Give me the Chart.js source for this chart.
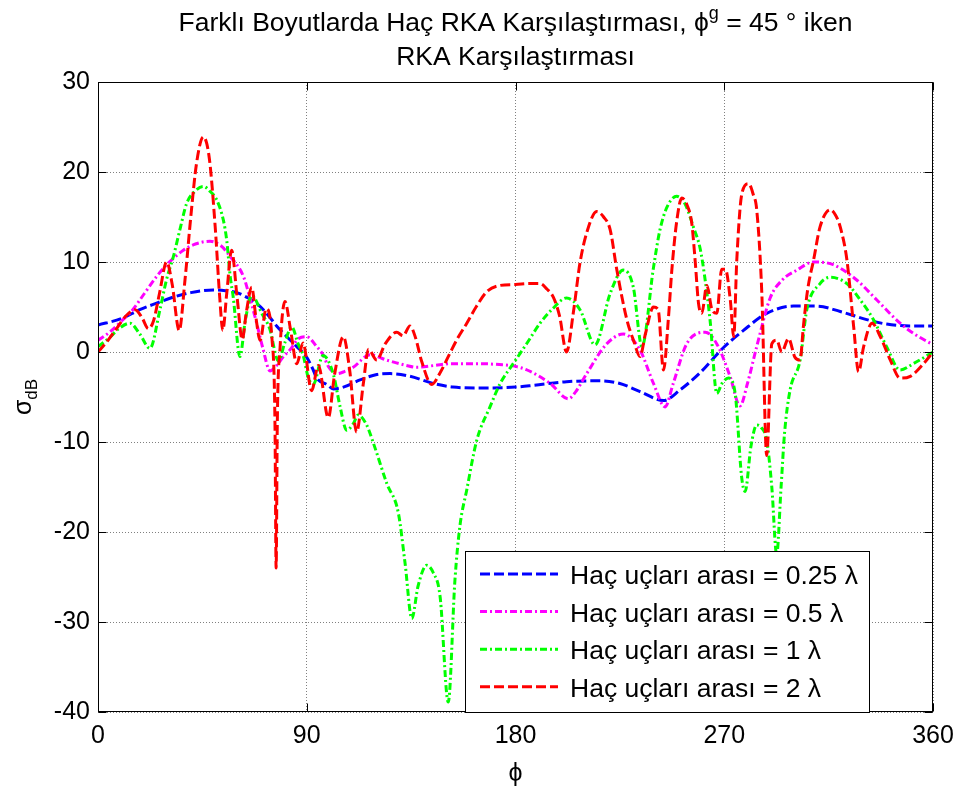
<!DOCTYPE html>
<html>
<head>
<meta charset="utf-8">
<script src="https://cdn.jsdelivr.net/npm/chart.js@4.4.0/dist/chart.umd.min.js"></script>
<style>
  html, body { margin: 0; padding: 0; background: #fff; }
  #wrap { width: 958px; height: 789px; }
</style>
</head>
<body>
<div id="wrap"><canvas id="rcsChart" width="958" height="789"></canvas></div>
<script>
// Eksen ayarları
const xTickValues = [0, 90, 180, 270, 360];
const yTickValues = [-40, -30, -20, -10, 0, 10, 20, 30];

// Haç uçları arası = 0.25 λ
const phi025 = [0, 10, 18, 25, 32.5, 40, 49.7, 55, 59.8, 64, 68.4, 73, 77, 81, 85.7, 90, 92.8, 94.3, 98.6, 101.5,
  105.8, 113, 120.2, 126, 134.5, 144.6, 153, 165, 180, 188, 202, 216.5, 225, 233.7, 243.8, 251, 259.6, 265,
  269.7, 278.3, 288.3, 299.8, 309.9, 320, 331.4, 340, 350, 360];
const rcs025 = [3.0, 3.7, 4.7, 5.4, 6.1, 6.6, 6.9, 6.8, 6.6, 6.1, 5.4, 4.2, 2.9, 1.8, 0.6, -0.6, -2.0, -2.9, -3.6, -4.1,
  -3.9, -3.1, -2.5, -2.4, -2.7, -3.5, -3.9, -4.0, -3.9, -3.7, -3.3, -3.2, -3.5, -4.4, -5.4, -4.2, -2.3, -0.8,
  0.5, 2.4, 4.3, 5.1, 5.1, 4.5, 3.6, 3.1, 2.9, 2.9];

// Haç uçları arası = 0.5 λ
const phi05 = [0, 5, 10, 15, 20, 25.3, 30, 36.8, 42, 48.3, 53, 57, 62.7, 65.5, 68.4, 71, 74.2, 77, 80, 83, 86.5, 90,
  94.3, 97, 99.3, 103, 106, 110, 117.3, 124.5, 133, 137.4, 145, 152, 165, 173, 180, 185, 195, 202.8, 206, 210.7,
  219.3, 226.5, 233.7, 239.5, 244.5, 248, 253.8, 261.8, 266.8, 272.5, 276.8, 280, 284, 289.8, 295, 301.3, 308.5,
  317, 327.1, 335.7, 345.8, 352, 360];
const rcs05 = [1.3, 2.2, 3.4, 4.7, 6.5, 8.4, 9.8, 11.3, 12.0, 12.3, 11.8, 10.6, 8.4, 6.0, 3.2, 0.5, -2.1, -1.5, -0.5, 0.3, 1.5, 1.7,
  0.6, -0.3, -1.6, -2.4, -2.2, -1.7, -0.3, -0.9, -1.5, -1.7, -1.5, -1.3, -1.3, -1.4, -1.6, -2.0, -3.5, -5.2, -4.4, -2.4,
  0.9, 2.0, 0.2, -3.5, -6.1, -3.5, 0.9, 2.2, 0.9, -2.7, -6.0, -3.5, 0.6, 6.0, 8.0, 9.1, 10.0,
  9.7, 8.0, 5.8, 3.2, 2.0, 0.8];

// Haç uçları arası = 1 λ
const phi1 = [0, 5, 9, 13.8, 18, 22.4, 26.7, 29.5, 32.5, 35.5, 38.2, 42, 45.4, 48.5, 51.2, 54, 55.5, 57, 58.3, 61.2,
  63.5, 66.3, 70.6, 74, 77.8, 80.5, 83.5, 86.3, 88.5, 90.6, 92.8, 97, 101.4, 104.4, 107.2, 110, 112.2, 115.8,
  118.7, 124.5, 129.5, 132.4, 135.3, 138, 141.7, 144.5, 147.5, 151, 153.9, 156, 159, 163.3, 169, 173.4, 179,
  185, 190.6, 196, 202, 207.8, 214.3, 220.8, 226.5, 230.8, 234.5, 239.5, 242.3, 245.5, 249.5, 253, 256.7,
  259.6, 261.5, 263.9, 266.8, 269, 271.8, 274.7, 277.5, 279, 281.5, 284, 286, 288.3, 290.5, 292.6, 294.5,
  296, 298.4, 302.7, 305.6, 311.3, 315.7, 322.9, 328.6, 334.3, 340, 345.8, 351.5, 360];
const rcs1 = [0.6, 1.6, 2.6, 3.2, 2.0, 0.4, 4.7, 8.0, 10.6, 13.8, 16.5, 17.9, 18.4, 17.8, 16.9, 14.7, 12.4, 8.4, 6.1, -0.5,
  3.5, 6.3, 4.3, 2.6, -1.0, 1.0, 2.8, 0.9, -0.4, -2.8, -3.6, -0.4, -2.4, -6.1, -8.7, -8.0, -7.0, -8.1,
  -10.1, -14.6, -17.9, -23.5, -29.6, -26.0, -23.7, -24.5, -27.2, -38.9, -25.3, -19.4, -15.3, -9.8, -6.1, -3.5, -1.3,
  1.0, 3.2, 4.8, 6.0, 4.7, 0.8, 6.5, 9.1, 7.2, 0.6, 9.4, 13.6, 16.2, 17.3, 16.5, 13.9,
  11.5, 8.5, 3.5, -4.6, -3.5, -2.9, -4.6, -13.9, -15.5, -10.5, -8.1, -8.4, -9.8, -15.0, -22.5, -15.0,
  -9.0, -4.2, -0.9, 4.7, 7.6, 8.3, 7.6, 5.8, 3.6, 0.6, -2.0, -1.3, 0.0];

// Haç uçları arası = 2 λ
const phi2 = [0, 4, 8, 12, 16, 19, 21.7, 24, 26.5, 29.6, 32, 35, 37.5, 40, 42.5, 45.4, 48, 50.5, 52.5, 53.8, 55.5,
  57.6, 60, 62.2, 64, 66.3, 68, 69.9, 72.5, 75, 76.3, 76.8, 77.3, 78.5, 80.6, 83, 85.7, 88.4, 92.1, 95, 99.3,
  102, 105.8, 108.5, 111.5, 114.4, 116.6, 120.2, 123.8, 128.8, 131.5, 134.5, 137, 139.5, 143.9, 147.5, 151.8,
  155, 159, 163, 167.6, 173.4, 180, 186, 190.6, 193.5, 196.3, 199, 202, 205, 207.8, 211, 215, 218, 220.8,
  223.7, 228, 231, 233.7, 236, 239.5, 241.5, 243.8, 246, 247.4, 249.5, 251.7, 254, 256, 257.5, 258.9, 260.3,
  262.5, 264.6, 266.8, 268.9, 270.5, 272.6, 274.1, 275.4, 277.6, 280.5, 282.5, 284, 286.2, 288.3, 290.5, 292.6,
  294.8, 297.7, 300.5, 302.7, 304.1, 306, 308.5, 311.3, 315.7, 318, 320, 322.9, 325.8, 327.9, 330.1, 333.7,
  337.3, 341.6, 345.8, 350.2, 355.9, 360];
const rcs2 = [0.0, 1.2, 2.6, 4.0, 4.7, 3.8, 2.6, 3.5, 6.5, 10.0, 7.5, 2.4, 8.0, 15.0, 21.0, 23.9, 21.5, 14.0, 6.0, 2.4, 6.5,
  11.3, 6.0, 1.4, 4.5, 7.2, 4.0, 1.3, 4.8, 1.5, -8.0, -24.0, -8.0, 0.5, 5.6, 2.5, -1.3, 1.0, -4.3, -1.5, -7.3,
  -2.5, 1.7, -2.0, -8.9, -3.5, 0.3, -0.9, 0.9, 2.2, 1.8, 2.9, 1.5, -1.0, -3.6, -2.3, -0.1,
  1.5, 3.2, 5.0, 6.7, 7.4, 7.5, 7.6, 7.6, 7.0, 6.1, 4.0, 0.0, 4.5, 9.9, 13.5, 15.6, 15.0, 13.6,
  9.1, 3.6, 1.2, -0.5, 2.0, 5.0, 4.7, -2.0, 4.0, 9.1, 14.5, 17.1, 16.3, 14.3, 10.0, 5.4, 4.3,
  7.4, 4.8, 4.3, 9.2, 9.2, 5.8, 1.7, 10.2, 17.6, 18.7, 17.5, 15.8, 6.5, -11.5, 0.9, 1.3,
  0.0, 1.5, -0.6, -0.9, 2.8, 7.0, 10.2, 13.9, 15.8, 15.2, 13.9, 10.2, 2.8, -2.2, 0.6, 3.2,
  1.7, -0.9, -2.9, -2.7, -1.3, 0.0];

const seriesLabels = [
  'Haç uçları arası = 0.25 λ',
  'Haç uçları arası = 0.5 λ',
  'Haç uçları arası = 1 λ',
  'Haç uçları arası = 2 λ'
];

const FONT = '"Liberation Sans", Arial, sans-serif';
const DASHED = [10, 4];
const DASH_DOT = [7, 3, 2, 3];

function toPoints(angles, values) {
  return angles.map((a, i) => ({ x: a, y: values[i] }));
}

function makeDataset(label, angles, values, color, dash, order) {
  return {
    label: label,
    data: toPoints(angles, values),
    borderColor: color,
    backgroundColor: color,
    borderWidth: 3,
    borderDash: dash,
    pointRadius: 0,
    cubicInterpolationMode: 'monotone',
    fill: false,
    order: order
  };
}

// Metin parçalarını (üst/alt simge dahil) ortalayarak yazar
function drawRuns(ctx, runs, cx, y) {
  let total = 0;
  runs.forEach(r => {
    ctx.font = r.font;
    r.w = ctx.measureText(r.text).width;
    total += r.w;
  });
  let x = cx - total / 2;
  runs.forEach(r => {
    ctx.font = r.font;
    ctx.fillText(r.text, x, y + (r.dy || 0));
    x += r.w;
  });
}

const matlabFrame = {
  id: 'matlabFrame',
  afterDraw(chart) {
    const { ctx, chartArea: a, scales } = chart;
    const L = Math.round(a.left) + 0.5;
    const R = Math.round(a.right) - 0.5;
    const T = Math.round(a.top) + 0.5;
    const B = Math.round(a.bottom) - 0.5;
    const tickLen = 8;

    ctx.save();
    ctx.strokeStyle = '#000';
    ctx.lineWidth = 1;
    ctx.setLineDash([]);

    // iç taraftaki tik işaretleri
    ctx.beginPath();
    xTickValues.forEach(v => {
      const px = Math.round(scales.x.getPixelForValue(v)) + 0.5;
      ctx.moveTo(px, B); ctx.lineTo(px, B - tickLen);
      ctx.moveTo(px, T); ctx.lineTo(px, T + tickLen);
    });
    yTickValues.forEach(v => {
      const py = Math.round(scales.y.getPixelForValue(v)) + 0.5;
      ctx.moveTo(L, py); ctx.lineTo(L + tickLen, py);
      ctx.moveTo(R, py); ctx.lineTo(R - tickLen, py);
    });
    ctx.stroke();
    ctx.strokeRect(L, T, R - L, B - T);

    // başlık
    ctx.fillStyle = '#000';
    ctx.textBaseline = 'alphabetic';
    const tf = '26.5px ' + FONT;
    const sf = '18px ' + FONT;
    const cx = (a.left + a.right) / 2;
    drawRuns(ctx, [
      { text: 'Farklı Boyutlarda Haç RKA Karşılaştırması, ϕ', font: tf },
      { text: 'g', font: sf, dy: -12 },
      { text: ' = 45', font: tf },
      { text: ' °', font: tf },
      { text: ' iken', font: tf }
    ], cx, 31);
    drawRuns(ctx, [{ text: 'RKA Karşılaştırması', font: tf }], cx, 65);

    // eksen başlıkları
    drawRuns(ctx, [{ text: 'ϕ', font: '25px ' + FONT }], cx, 781);
    ctx.save();
    ctx.translate(31, (a.top + a.bottom) / 2);
    ctx.rotate(-Math.PI / 2);
    drawRuns(ctx, [
      { text: 'σ', font: '25px ' + FONT },
      { text: 'dB', font: '17px ' + FONT, dy: 6 }
    ], 0, 0);
    ctx.restore();

    // lejant kutusu
    const box = { x: 465.5, y: 551.5, w: 404, h: 161 };
    ctx.fillStyle = '#fff';
    ctx.fillRect(box.x, box.y, box.w, box.h);
    ctx.strokeStyle = '#000';
    ctx.strokeRect(box.x, box.y, box.w, box.h);

    chart.data.datasets.forEach((ds, i) => {
      const ly = 574 + i * 37.6;
      ctx.save();
      ctx.strokeStyle = ds.borderColor;
      ctx.lineWidth = 3;
      ctx.setLineDash(ds.borderDash);
      ctx.beginPath();
      ctx.moveTo(480, ly);
      ctx.lineTo(558, ly);
      ctx.stroke();
      ctx.restore();
      ctx.fillStyle = '#000';
      ctx.font = '26.5px ' + FONT;
      ctx.textAlign = 'left';
      ctx.fillText(ds.label, 570, ly + 10);
    });
    ctx.restore();
  }
};

const ctx = document.getElementById('rcsChart').getContext('2d');
const chart = new Chart(ctx, {
  type: 'line',
  data: {
    datasets: [
      makeDataset(seriesLabels[0], phi025, rcs025, '#0000ff', DASHED, 4),
      makeDataset(seriesLabels[1], phi05, rcs05, '#ff00ff', DASH_DOT, 3),
      makeDataset(seriesLabels[2], phi1, rcs1, '#00ff00', DASH_DOT, 2),
      makeDataset(seriesLabels[3], phi2, rcs2, '#ff0000', DASHED, 1)
    ]
  },
  options: {
    responsive: false,
    animation: false,
    devicePixelRatio: 1,
    layout: { padding: { top: 82, right: 25, left: 0, bottom: 0 } },
    plugins: {
      legend: { display: false },
      tooltip: { enabled: false },
      title: { display: false }
    },
    scales: {
      x: {
        type: 'linear',
        min: 0,
        max: 360,
        afterBuildTicks: scale => { scale.ticks = xTickValues.map(v => ({ value: v })); },
        afterFit: scale => {
          scale.height = 77;
          scale.paddingLeft = 0;
          scale.paddingRight = 0;
        },
        grid: { color: '#808080', lineWidth: 1, drawTicks: false },
        border: { display: false, dash: [1, 2] },
        ticks: { color: '#000', font: { family: FONT, size: 25 }, padding: 9, maxRotation: 0 }
      },
      y: {
        type: 'linear',
        min: -40,
        max: 30,
        afterBuildTicks: scale => { scale.ticks = yTickValues.map(v => ({ value: v })); },
        afterFit: scale => {
          scale.width = 98;
          scale.paddingTop = 0;
          scale.paddingBottom = 0;
        },
        grid: { color: '#808080', lineWidth: 1, drawTicks: false },
        border: { display: false, dash: [1, 2] },
        ticks: { color: '#000', font: { family: FONT, size: 25 }, padding: 8 }
      }
    }
  },
  plugins: [matlabFrame]
});
</script>
</body>
</html>
